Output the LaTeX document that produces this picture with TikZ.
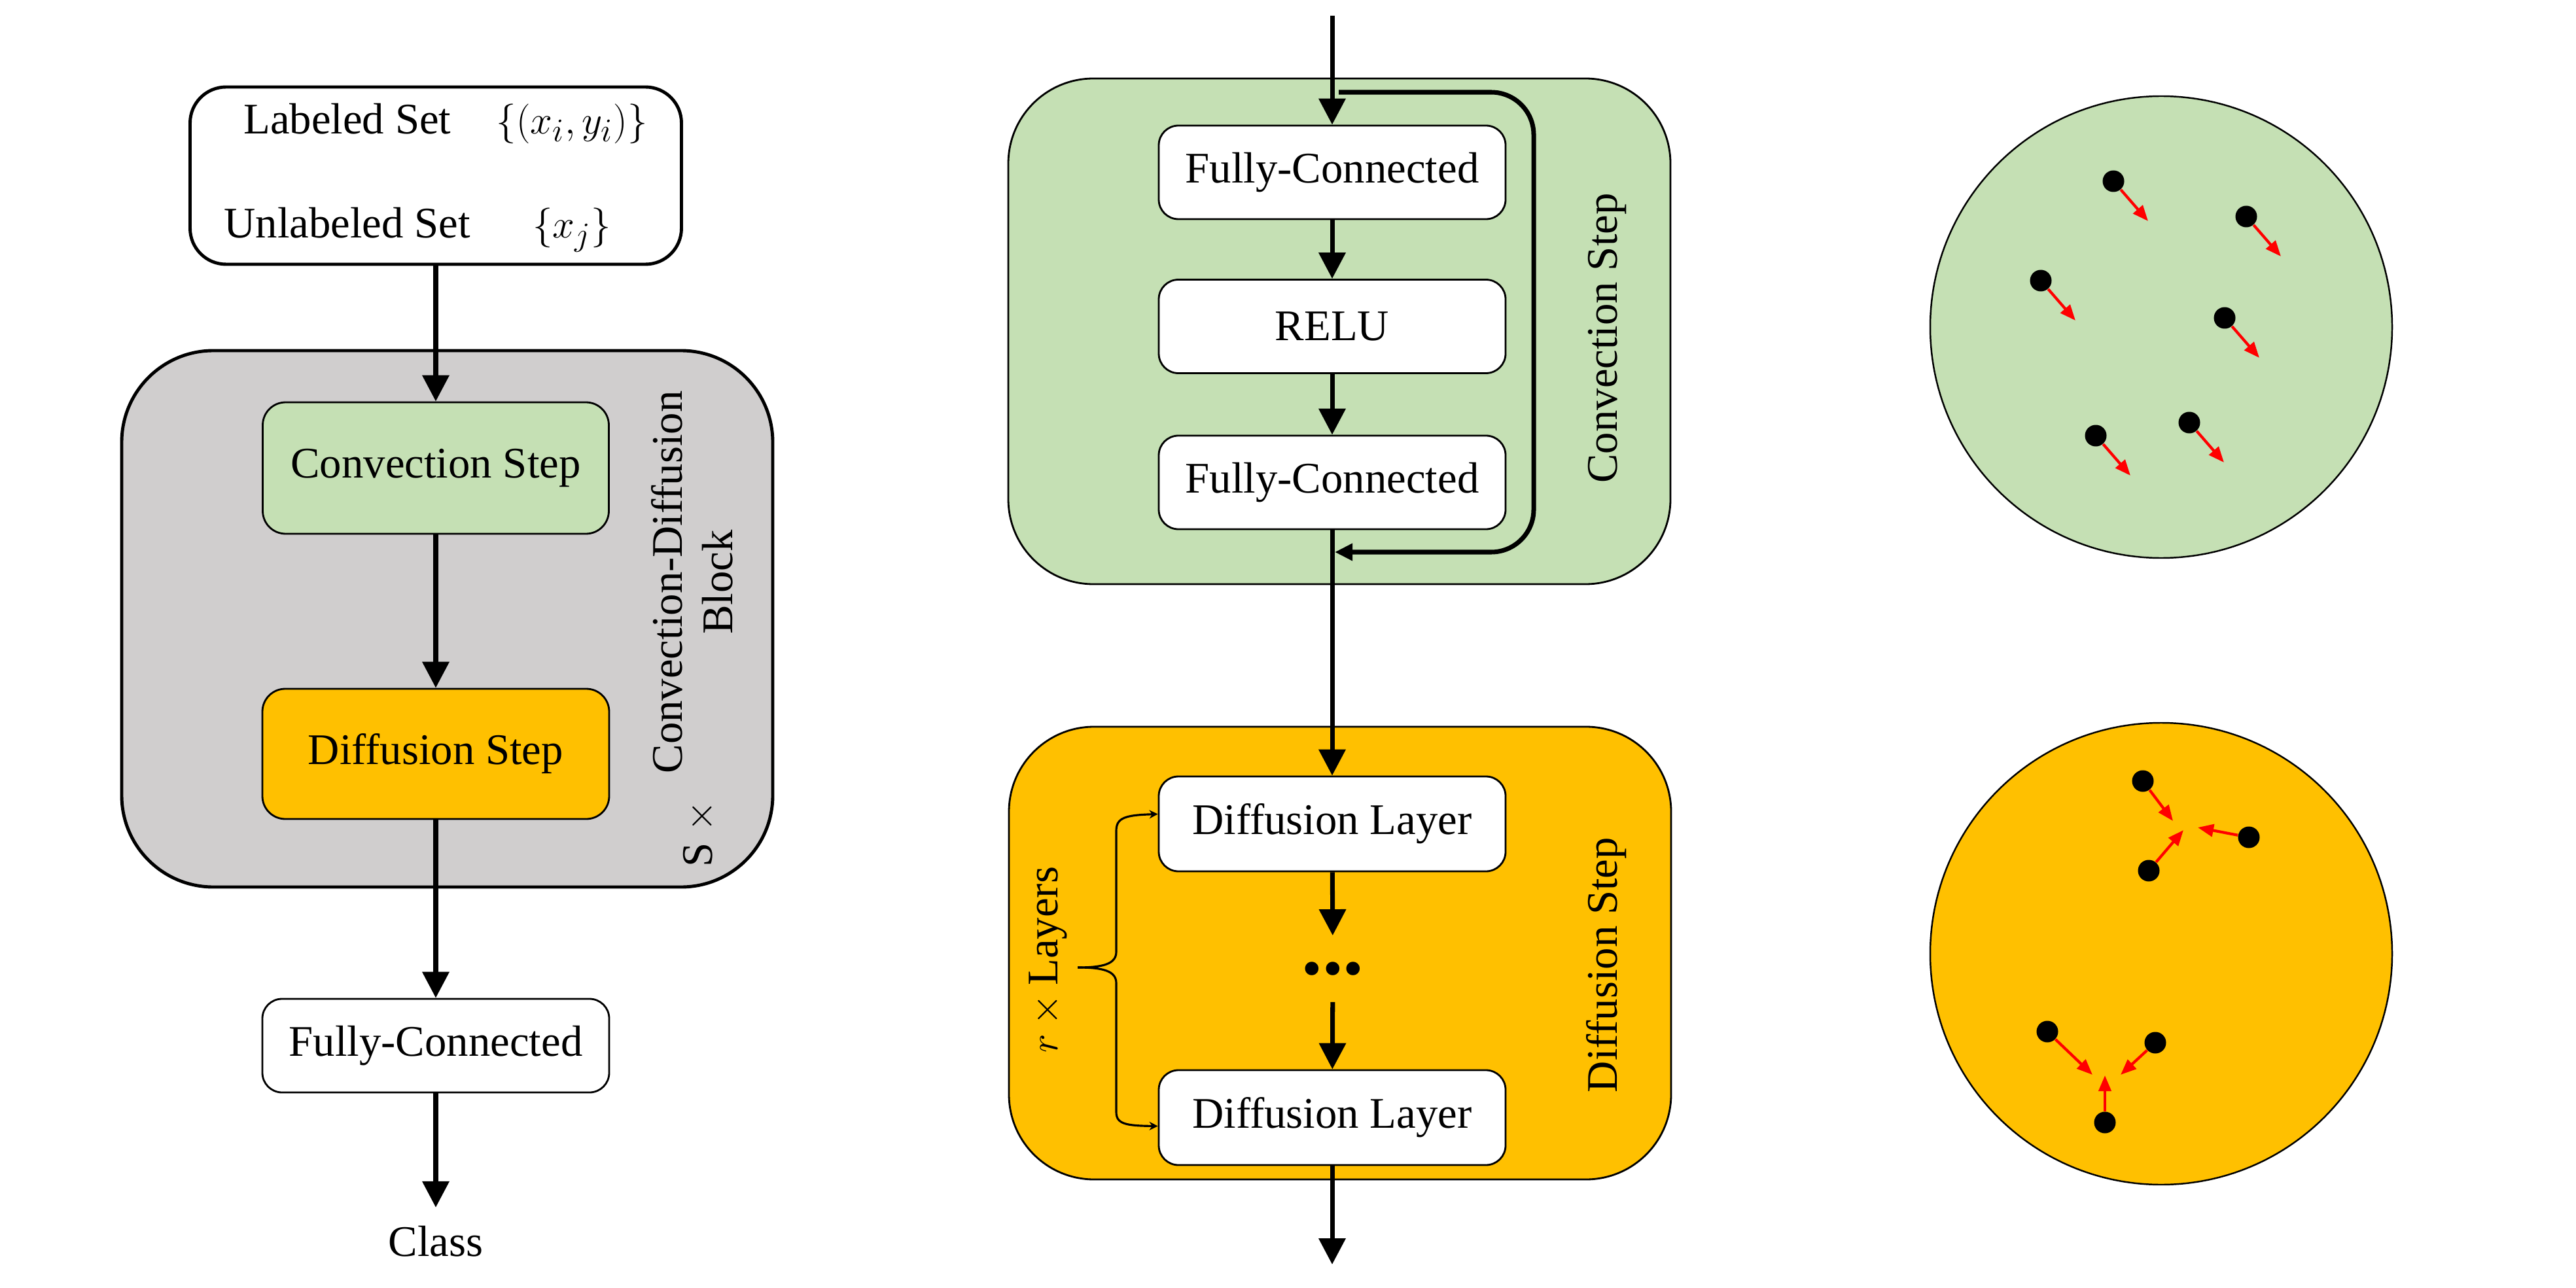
\documentclass[tikz,border=0pt]{standalone}
\usepackage{fontspec}
\setmainfont{Liberation Serif}
\usetikzlibrary{arrows.meta,calc,positioning}
\definecolor{ConvGreen}{HTML}{C5E0B4}
\definecolor{DiffGold}{HTML}{FFC000}
\definecolor{BlockGray}{HTML}{D0CECE}
\definecolor{FlowRed}{HTML}{FF0000}

\begin{document}
\begin{tikzpicture}[>={Triangle[length=4mm,width=4mm]},
    font=\fontsize{19}{22}\selectfont,
    layer/.style={draw, line width=0.8pt, fill=white, rounded corners=0.3cm, minimum width=5.3cm, minimum height=1.43cm, inner sep=0pt},
    stage/.style={draw, line width=0.8pt, rounded corners=1.3cm, minimum width=10.12cm},
    flow/.style={->, line width=2pt},
    particle/.style={circle, fill=black, minimum size=0.33cm, inner sep=0pt},
    drift/.style={-{Triangle[length=2.4mm,width=1.9mm]}, FlowRed, line width=1.2pt},
    arena/.style={circle, draw, line width=0.7pt, minimum size=7.06cm, inner sep=0pt}]

    % Canvas
    \useasboundingbox (0,0) rectangle (39.37,-19.69);

    % Overall model (left)
    \node[draw, line width=1.4pt, fill=BlockGray, rounded corners=1.4cm, minimum width=9.95cm, minimum height=8.2cm] (cdblock) at (6.835,-9.46) {};
    \node[draw, line width=1.4pt, rounded corners=0.55cm, minimum width=7.51cm, minimum height=2.71cm, inner sep=0pt] (input) at (6.66,-2.685) {\begin{tabular}{@{}c@{\hspace{0.4cm}}c@{}} Labeled Set & $\{(x_i, y_i)\}$\\[0.82cm] Unlabeled Set & $\{x_j\}$\end{tabular}};
    \node[layer, fill=ConvGreen, minimum width=5.29cm, minimum height=2.01cm, rounded corners=0.35cm] (conv) at (6.66,-7.155) {Convection Step};
    \node[layer, fill=DiffGold, minimum width=5.3cm, minimum height=1.99cm, rounded corners=0.35cm] (diff) at (6.66,-11.525) {Diffusion Step};
    \node[layer] (fcout) at (6.66,-15.985) {Fully-Connected};
    \node[inner sep=0.28cm] (class) at (6.66,-18.98) {Class};
    \node[rotate=90, align=center] (blocklabel) at (10.58,-8.9) {Convection-Diffusion\\Block};
    \node[rotate=90] (repeat) at (10.69,-12.75) {S $\times$};

    \draw[flow] (input) -- (conv);
    \draw[flow] (conv) -- (diff);
    \draw[flow] (diff) -- (fcout);
    \draw[flow] (fcout) -- (class);

    % Convection step (middle, top)
    \node[stage, fill=ConvGreen, minimum height=7.73cm] (convstage) at (20.47,-5.065) {};
    \node[rotate=90] (convlabel) at (24.56,-5.17) {Convection Step};
    \node[layer] (fc1) at (20.36,-2.635) {Fully-Connected};
    \node[layer] (relu) at (20.36,-4.99) {RELU};
    \node[layer] (fc2) at (20.36,-7.375) {Fully-Connected};

    % Diffusion step (middle, bottom)
    \node[stage, fill=DiffGold, minimum height=6.92cm] (diffstage) at (20.48,-14.57) {};
    \node[rotate=90] (difflabel) at (24.55,-14.75) {Diffusion Step};
    \node[layer, minimum height=1.45cm] (dl1) at (20.36,-12.595) {Diffusion Layer};
    \node[font=\fontsize{36}{36}\selectfont\bfseries, inner sep=0.4cm] (dots) at (20.37,-14.81) {...};
    \node[layer, minimum height=1.45cm] (dl2) at (20.36,-17.085) {Diffusion Layer};
    \node[rotate=90] (rlabel) at (16.02,-14.67) {$r\times{}$Layers};

    % Main flow
    \coordinate (mid in) at (20.36,-0.24);
    \coordinate (mid out) at (20.36,-19.33);
    \draw[flow] (mid in) -- (fc1);
    \draw[flow] (fc1) -- (relu);
    \draw[flow] (relu) -- (fc2);
    \draw[flow] (fc2) -- (dl1);
    \draw[flow] (dl1) -- (dots);
    \draw[flow] (dots) -- (dl2);
    \draw[flow] (dl2) -- (mid out);

    % Skip connection
    \coordinate (skip in) at (20.46,-1.41);
    \coordinate (skip out) at (20.4,-8.44);
    \draw[-{Triangle[length=2.7mm,width=2.5mm]}, line width=2pt, rounded corners=0.65cm] (skip in) -- (23.44,-1.41) -- (23.44,-8.44) -- (skip out);

    % Brace over the layers
    \coordinate (brace tip) at (16.47,-14.79);
    \draw[-{Stealth[length=1.3mm,width=1.3mm]}, line width=0.9pt] (brace tip) .. controls (16.85,-14.79) and (17.06,-14.74) .. (17.06,-14.55) -- (17.06,-12.7) .. controls (17.06,-12.5) and (17.2,-12.46) .. ([yshift=0.15cm]dl1.west);
    \draw[-{Stealth[length=1.3mm,width=1.3mm]}, line width=0.9pt] (brace tip) .. controls (16.85,-14.79) and (17.06,-14.84) .. (17.06,-15.03) -- (17.06,-17.0) .. controls (17.06,-17.18) and (17.2,-17.21) .. ([yshift=-0.13cm]dl2.west);

    % Particles moving together (right, top)
    \node[arena, fill=ConvGreen] (convarena) at (33.03,-5.0) {};
    \foreach \i/\x/\y in {1/32.3/-2.77, 2/34.33/-3.31, 3/31.19/-4.29, 4/34.0/-4.86, 5/32.03/-6.66, 6/33.46/-6.46} {
        \node[particle] (g\i) at (\x,\y) {};
        \draw[drift] (g\i) -- ++(0.53,-0.61);
    }

    % Particles gathering (right, bottom)
    \node[arena, fill=DiffGold] (diffarena) at (33.03,-14.58) {};
    \foreach \i/\x/\y/\tx/\ty in {1/32.75/-11.94/33.21/-12.55, 2/34.37/-12.8/33.59/-12.65, 3/32.84/-13.31/33.37/-12.69, 4/31.29/-15.77/31.98/-16.43, 5/32.94/-15.94/32.41/-16.43, 6/32.17/-17.16/32.17/-16.44} {
        \node[particle] (o\i) at (\x,\y) {};
        \coordinate (o\i tip) at (\tx,\ty);
        \draw[drift] (o\i) -- (o\i tip);
    }

\end{tikzpicture}
\end{document}
